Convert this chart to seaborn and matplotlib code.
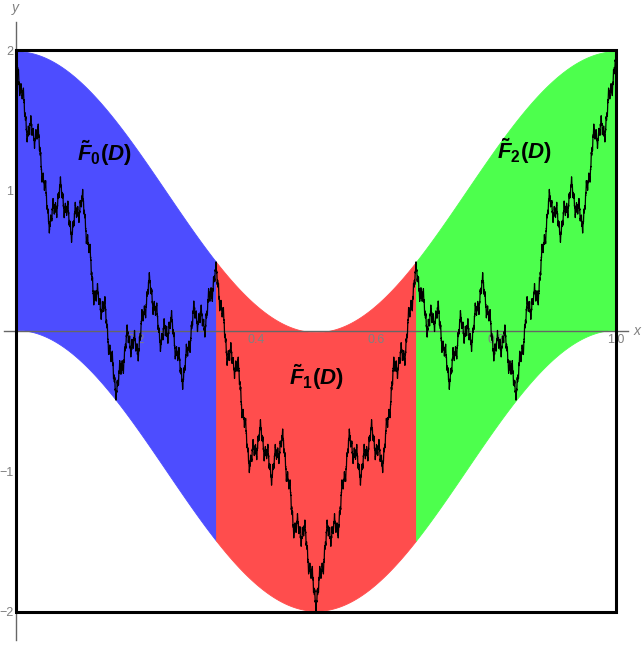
import numpy as np
import matplotlib
matplotlib.use('Agg')
import matplotlib.pyplot as plt
from matplotlib.ticker import MultipleLocator
import seaborn as sns

# Weierstrass series: sum of amplitude * cos(2*pi*frequency*x)
amplitudes = [1, 0.5, 0.25, 0.125, 0.0625, 0.03125, 0.015625, 0.0078125]
frequencies = [1, 3, 9, 27, 81, 243, 729, 2187]

# pieces of the domain and their colours / names
segment_edges = [0, 1/3, 2/3, 1]
segment_colors = ['#4d4dff', '#ff4d4d', '#4dff4d']
segment_labels = [r'$\tilde{F}_0\mathit{(D)}$', r'$\tilde{F}_1\mathit{(D)}$', r'$\tilde{F}_2\mathit{(D)}$']

x_ticks = [0.2, 0.4, 0.6, 0.8, 1.0]
x_ticklabels = ['0.2', '0.4', '0.6', '0.8', '1.0']
y_ticks = [-2, -1, 1, 2]
y_ticklabels = ['\u22122', '\u22121', '1', '2']

frame_x = [0, 1]
frame_y = [-2, 2]


def weierstrass(x):
    return sum(a * np.cos(2 * np.pi * b * x) for a, b in zip(amplitudes, frequencies))


def envelope(x):
    base = amplitudes[0] * np.cos(2 * np.pi * frequencies[0] * x)
    rest = sum(amplitudes[1:])
    return base - rest, base + rest


sns.set_style('white')
plt.rcParams['font.family'] = ['Liberation Sans', 'DejaVu Sans']
plt.rcParams['mathtext.fontset'] = 'custom'
plt.rcParams['mathtext.rm'] = 'Liberation Sans:bold'
plt.rcParams['mathtext.it'] = 'Liberation Sans:bold:italic'
plt.rcParams['mathtext.bf'] = 'Liberation Sans:bold'

fig = plt.figure(figsize=(6.44, 6.46), dpi=100)
ax = fig.add_axes([4 / 644, 6 / 646, 624 / 644, 618 / 646])
ax.set_xlim(-0.02, 1.02)
ax.set_ylim(-2.2, 2.2)
ax.set_axisbelow(False)

# coloured bands between the envelopes
label_pos = [(0.148, 1.27), (0.5, -0.33), (0.848, 1.28)]
for i in range(3):
    xs = np.linspace(segment_edges[i], segment_edges[i + 1], 400)
    lo, hi = envelope(xs)
    ax.fill_between(xs, lo, hi, facecolor=segment_colors[i], edgecolor=segment_colors[i],
                    lw=0.6, antialiased=False, zorder=1)
    ax.text(label_pos[i][0], label_pos[i][1], segment_labels[i], fontsize=16,
            color='black', ha='center', va='center', zorder=5)

# frame
ax.plot([frame_x[0], frame_x[1], frame_x[1], frame_x[0], frame_x[0]],
        [frame_y[0], frame_y[0], frame_y[1], frame_y[1], frame_y[0]],
        color='black', lw=2.2, solid_joinstyle='miter', zorder=3)

# the fractal curve
xx = np.linspace(0, 1, 30001)
sns.lineplot(x=xx, y=weierstrass(xx), ax=ax, color='black', lw=0.9,
             estimator=None, sort=False, zorder=4)

# Mathematica-like axes through the origin
axis_gray = '#666666'
for side in ['top', 'right']:
    ax.spines[side].set_visible(False)
ax.spines['left'].set_position(('data', 0))
ax.spines['bottom'].set_position(('data', 0))
for side in ['left', 'bottom']:
    ax.spines[side].set_color(axis_gray)
    ax.spines[side].set_linewidth(1.0)
    ax.spines[side].set_zorder(2)

ax.set_xticks(x_ticks)
ax.set_xticklabels(x_ticklabels)
ax.set_yticks(y_ticks)
ax.set_yticklabels(y_ticklabels)
ax.xaxis.set_minor_locator(MultipleLocator(0.05))
ax.yaxis.set_minor_locator(MultipleLocator(0.2))
ax.tick_params(which='major', direction='in', length=4, width=0.8, color=axis_gray,
               labelcolor='#808080', labelsize=9, pad=2)
ax.tick_params(which='minor', direction='in', length=2.5, width=0.6, color=axis_gray)

ax.text(1.035, 0, 'x', style='italic', color='#808080', fontsize=10,
        ha='center', va='center', clip_on=False)
ax.text(-0.002, 2.3, 'y', style='italic', color='#808080', fontsize=10,
        ha='center', va='center', clip_on=False)

ax.set_xlabel('')
ax.set_ylabel('')
fig.savefig('out.png', dpi=100)
